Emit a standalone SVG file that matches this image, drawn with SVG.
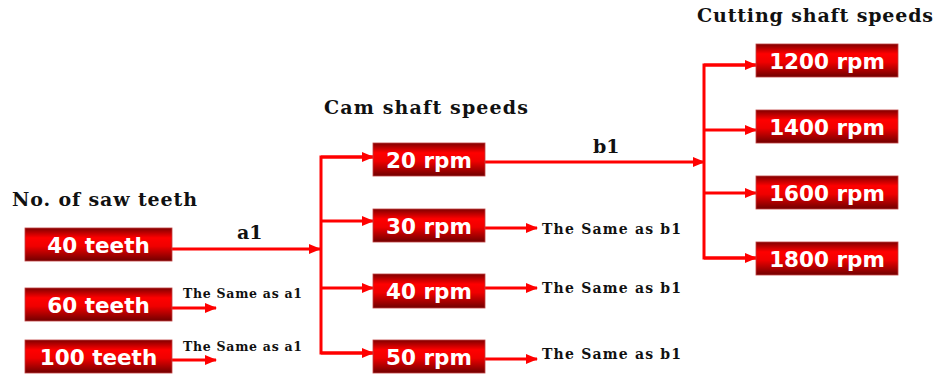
<svg xmlns="http://www.w3.org/2000/svg" width="937" height="376" viewBox="0 0 937 376">
<defs>
<linearGradient id="g" x1="0" y1="0" x2="0" y2="1">
<stop offset="0" stop-color="#800000"/>
<stop offset="0.3" stop-color="#ff0000"/>
<stop offset="0.55" stop-color="#f00000"/>
<stop offset="1" stop-color="#700000"/>
</linearGradient>
<marker id="ah" markerWidth="12" markerHeight="10" refX="11" refY="5" orient="auto" markerUnits="userSpaceOnUse">
<path d="M0,0 L12,5 L0,10 Z" fill="#ff0000"/>
</marker>
</defs>
<style>
.box{fill:url(#g);stroke:#c04040;stroke-width:0.8}
.bt{font-family:"DejaVu Sans",sans-serif;font-weight:bold;font-size:21.5px;fill:#fff;text-anchor:middle}
.title{font-family:"DejaVu Serif",serif;font-weight:bold;font-size:19px;fill:#111}
.lbl{font-family:"DejaVu Serif",serif;font-weight:bold;font-size:19px;fill:#111}
.sa{font-family:"DejaVu Serif",serif;font-weight:bold;font-size:12.5px;fill:#111}
.sb{font-family:"DejaVu Serif",serif;font-weight:bold;font-size:14px;fill:#111}
.c{fill:none;stroke:#ff0000;stroke-width:3}
.ca{fill:none;stroke:#ff0000;stroke-width:3;marker-end:url(#ah)}
</style>
<rect width="937" height="376" fill="#fff"/>
<text class="title" x="12" y="206" textLength="185" lengthAdjust="spacing">No. of saw teeth</text>
<text class="title" x="324" y="114" textLength="204" lengthAdjust="spacing">Cam shaft speeds</text>
<text class="title" x="697" y="22" textLength="236" lengthAdjust="spacing">Cutting shaft speeds</text>
<g id="connectors">
<line class="ca" x1="172" y1="249" x2="320" y2="249"/>
<line class="ca" x1="172" y1="308" x2="216" y2="308"/>
<line class="ca" x1="172" y1="360" x2="216" y2="360"/>
<polyline class="c" points="373,157 321,157 321,353 373,353"/>
<line class="ca" x1="321" y1="157" x2="373" y2="157"/>
<line class="ca" x1="321" y1="221" x2="373" y2="221"/>
<line class="ca" x1="321" y1="288" x2="373" y2="288"/>
<line class="ca" x1="321" y1="353" x2="373" y2="353"/>
<line class="ca" x1="485" y1="162" x2="704" y2="162"/>
<line class="ca" x1="485" y1="228" x2="537" y2="228"/>
<line class="ca" x1="485" y1="288" x2="537" y2="288"/>
<line class="ca" x1="485" y1="359" x2="537" y2="359"/>
<polyline class="c" points="756,65 704,65 704,258 756,258"/>
<line class="ca" x1="704" y1="65" x2="756" y2="65"/>
<line class="ca" x1="704" y1="130" x2="756" y2="130"/>
<line class="ca" x1="704" y1="193" x2="756" y2="193"/>
<line class="ca" x1="704" y1="258" x2="756" y2="258"/>
<text class="lbl" x="237" y="239">a1</text>
<text class="lbl" x="593" y="153">b1</text>
<text class="sa" x="183" y="298" textLength="119" lengthAdjust="spacing">The Same as a1</text>
<text class="sa" x="183" y="351" textLength="119" lengthAdjust="spacing">The Same as a1</text>
<text class="sb" x="542" y="234" textLength="139" lengthAdjust="spacing">The Same as b1</text>
<text class="sb" x="542" y="293" textLength="139" lengthAdjust="spacing">The Same as b1</text>
<text class="sb" x="542" y="359" textLength="139" lengthAdjust="spacing">The Same as b1</text>
</g>
<g id="t40"><rect class="box" x="25" y="228" width="147" height="33"/><text class="bt" x="98.5" y="252.5">40 teeth</text></g>
<g id="t60"><rect class="box" x="25" y="288" width="147" height="33"/><text class="bt" x="98.5" y="312.5">60 teeth</text></g>
<g id="t100"><rect class="box" x="25" y="340" width="147" height="33"/><text class="bt" x="98.5" y="364.5">100 teeth</text></g>
<g id="r20"><rect class="box" x="373" y="143" width="112" height="33"/><text class="bt" x="429" y="167.5">20 rpm</text></g>
<g id="r30"><rect class="box" x="373" y="209" width="112" height="33"/><text class="bt" x="429" y="233.5">30 rpm</text></g>
<g id="r40"><rect class="box" x="373" y="274" width="112" height="34"/><text class="bt" x="429" y="298.5">40 rpm</text></g>
<g id="r50"><rect class="box" x="373" y="340" width="112" height="33"/><text class="bt" x="429" y="364.5">50 rpm</text></g>
<g id="r1200"><rect class="box" x="756" y="44" width="142" height="33"/><text class="bt" x="827" y="68.5">1200 rpm</text></g>
<g id="r1400"><rect class="box" x="756" y="110" width="142" height="33"/><text class="bt" x="827" y="134.5">1400 rpm</text></g>
<g id="r1600"><rect class="box" x="756" y="176" width="142" height="33"/><text class="bt" x="827" y="200.5">1600 rpm</text></g>
<g id="r1800"><rect class="box" x="756" y="242" width="142" height="33"/><text class="bt" x="827" y="266.5">1800 rpm</text></g>
</svg>
